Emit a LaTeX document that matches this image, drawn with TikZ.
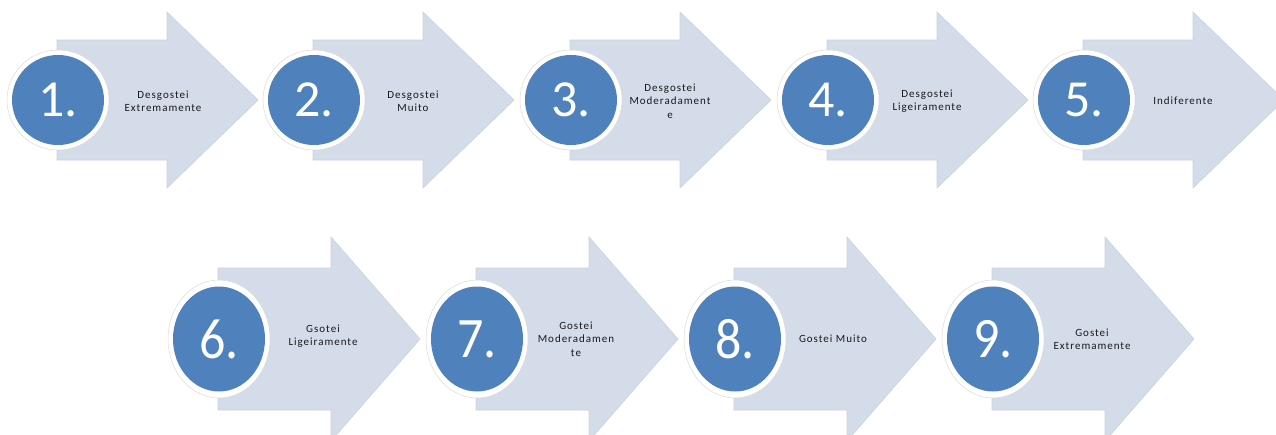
\documentclass[tikz,border=0pt]{standalone}
\usepackage{fontspec}
\setmainfont{Carlito}
\newfontfamily\lblfont[LetterSpace=9]{Carlito}
\usetikzlibrary{shapes.geometric}
\definecolor{arwfill}{RGB}{213,220,233}
\definecolor{arwedge}{RGB}{200,209,224}
\definecolor{dotblue}{RGB}{79,129,189}
\tikzstyle{arw}=[fill=arwfill, draw=arwedge, line width=.6pt]
\tikzstyle{ring}=[shape=ellipse, fill=white, draw=black!15, line width=.5pt, inner sep=0]
\tikzstyle{dot}=[shape=ellipse, fill=dotblue, inner sep=0, text=white, font=\fontsize{52}{52}\selectfont]
\tikzstyle{lbl}=[align=center, font=\lblfont\fontsize{11}{13.3}\selectfont, text=black!90]

\begin{document}
\begin{tikzpicture}[x=1pt, y=-1pt]
\clip (0,0) rectangle (1276,434);
%\draw[help lines,step=50] (0,0) grid (1276,434);
% first row
\draw[arw] (57,40) -- ++(110,0) -- ++(0,-28) -- ++(91,88) -- ++(-91,88) -- ++(0,-28) -- ++(-110,0) -- cycle;
\draw[arw] (313,40) -- ++(110,0) -- ++(0,-28) -- ++(91,88) -- ++(-91,88) -- ++(0,-28) -- ++(-110,0) -- cycle;
\draw[arw] (570,40) -- ++(110,0) -- ++(0,-28) -- ++(91,88) -- ++(-91,88) -- ++(0,-28) -- ++(-110,0) -- cycle;
\draw[arw] (827,40) -- ++(110,0) -- ++(0,-28) -- ++(91,88) -- ++(-91,88) -- ++(0,-28) -- ++(-110,0) -- cycle;
\draw[arw] (1083,40) -- ++(110,0) -- ++(0,-28) -- ++(91,88) -- ++(-91,88) -- ++(0,-28) -- ++(-110,0) -- cycle;
\node at (58,100)[ring, minimum width=102pt, minimum height=100pt](r1){};
\node at (314,100)[ring, minimum width=102pt, minimum height=100pt](r2){};
\node at (571,100)[ring, minimum width=102pt, minimum height=100pt](r3){};
\node at (828,100)[ring, minimum width=102pt, minimum height=100pt](r4){};
\node at (1084,100)[ring, minimum width=102pt, minimum height=100pt](r5){};
\node at (r1)[dot, minimum width=92pt, minimum height=90pt](d1){1.};
\node at (r2)[dot, minimum width=92pt, minimum height=90pt](d2){2.};
\node at (r3)[dot, minimum width=92pt, minimum height=90pt](d3){3.};
\node at (r4)[dot, minimum width=92pt, minimum height=90pt](d4){4.};
\node at (r5)[dot, minimum width=92pt, minimum height=90pt](d5){5.};
\node at (163,101)[lbl](t1){Desgostei\\Extremamente};
\node at (413,101)[lbl](t2){Desgostei\\Muito};
\node at (670,101)[lbl](t3){Desgostei\\Moderadament\\e};
\node at (927,101)[lbl](t4){Desgostei\\Ligeiramente};
\node at (1183,101)[lbl](t5){Indiferente};
% second row
\draw[arw] (218,268) -- ++(113,0) -- ++(0,-31) -- ++(89,102) -- ++(-89,102) -- ++(0,-31) -- ++(-113,0) -- cycle;
\draw[arw] (476,268) -- ++(113,0) -- ++(0,-31) -- ++(89,102) -- ++(-89,102) -- ++(0,-31) -- ++(-113,0) -- cycle;
\draw[arw] (734,268) -- ++(113,0) -- ++(0,-31) -- ++(89,102) -- ++(-89,102) -- ++(0,-31) -- ++(-113,0) -- cycle;
\draw[arw] (992,268) -- ++(113,0) -- ++(0,-31) -- ++(89,102) -- ++(-89,102) -- ++(0,-31) -- ++(-113,0) -- cycle;
\node at (219,339)[ring, minimum width=102pt, minimum height=118pt](r6){};
\node at (477,339)[ring, minimum width=102pt, minimum height=118pt](r7){};
\node at (735,339)[ring, minimum width=102pt, minimum height=118pt](r8){};
\node at (993,339)[ring, minimum width=102pt, minimum height=118pt](r9){};
\node at (r6)[dot, minimum width=92pt, minimum height=105pt](d6){\scalebox{1}[1.1]{6.}};
\node at (r7)[dot, minimum width=92pt, minimum height=105pt](d7){\scalebox{1}[1.1]{7.}};
\node at (r8)[dot, minimum width=92pt, minimum height=105pt](d8){\scalebox{1}[1.1]{8.}};
\node at (r9)[dot, minimum width=92pt, minimum height=105pt](d9){\scalebox{1}[1.1]{9.}};
\node at (323,336)[lbl](t6){Gsotei\\Ligeiramente};
\node at (576,339)[lbl](t7){Gostei\\Moderadamen\\te};
\node at (833,339)[lbl](t8){Gostei Muito};
\node at (1092,339)[lbl](t9){Gostei\\Extremamente};
\end{tikzpicture}
\end{document}
